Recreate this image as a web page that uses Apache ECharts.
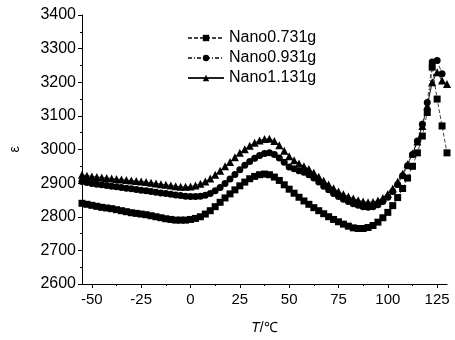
<!DOCTYPE html>
<html>
<head>
<meta charset="utf-8">
<script src="https://cdn.jsdelivr.net/npm/echarts@6/dist/echarts.min.js"></script>
<style>html,body{margin:0;padding:0;background:#fff}#c{width:455px;height:340px}</style>
</head>
<body>
<div id="c"></div>
<script>
const temps = [-55,-52.5,-50,-47.5,-45,-42.5,-40,-37.5,-35,-32.5,-30,-27.5,-25,-22.5,-20,-17.5,-15,-12.5,-10,-7.5,-5,-2.5,0,2.5,5,7.5,10,12.5,15,17.5,20,22.5,25,27.5,30,32.5,35,37.5,40,42.5,45,47.5,50,52.5,55,57.5,60,62.5,65,67.5,70,72.5,75,77.5,80,82.5,85,87.5,90,92.5,95,97.5,100,102.5,105,107.5,110,112.5,115,117.5,120,122.5,125,127.5,130];

const nano0731 = [2840,2837,2834,2831,2828,2826,2824,2821,2818,2815,2812,2810,2808,2806,2803,2800,2797,2794,2792,2790,2790,2790,2792,2795,2800,2808,2818,2830,2843,2856,2868,2880,2892,2903,2913,2920,2925,2927,2925,2918,2908,2895,2882,2870,2858,2847,2837,2827,2818,2809,2800,2792,2785,2778,2772,2767,2765,2765,2768,2774,2784,2797,2813,2833,2857,2884,2915,2950,2990,3040,3110,3245,3150,3070,2990];

const nano0931 = [2905,2902,2899,2897,2895,2893,2891,2889,2887,2885,2883,2881,2879,2877,2875,2873,2871,2869,2867,2865,2863,2861,2860,2860,2861,2864,2869,2877,2887,2899,2912,2926,2940,2953,2964,2974,2982,2988,2990,2985,2975,2962,2948,2943,2937,2932,2925,2915,2903,2891,2880,2869,2860,2852,2845,2839,2834,2830,2828,2830,2836,2845,2858,2875,2896,2922,2952,2985,3025,3075,3140,3260,3265,3225,null];

const nano1131 = [2925,2922,2920,2918,2917,2915,2914,2912,2911,2909,2908,2906,2905,2903,2901,2899,2897,2895,2893,2891,2889,2889,2890,2893,2898,2905,2914,2925,2937,2950,2963,2977,2990,3001,3011,3020,3027,3031,3032,3025,3013,2996,2980,2968,2958,2950,2942,2931,2919,2907,2896,2885,2875,2867,2860,2854,2849,2845,2843,2844,2848,2856,2868,2884,2904,2928,2956,2988,3024,3070,3130,3200,3230,3205,3195];

const xMajorTicks = [-50,-25,0,25,50,75,100,125];
const xMinorTicks = [-37.5,-12.5,12.5,37.5,62.5,87.5,112.5];
const seriesNames = ['Nano0.731g','Nano0.931g','Nano1.131g'];

function pairs(vals){ return temps.map((t,i)=>[t, vals[i]]); }

const chart = echarts.init(document.getElementById('c'), null, {renderer:'canvas'});
const font = 'Liberation Sans, Arial, sans-serif';
chart.setOption({
  animation:false,
  backgroundColor:'#fff',
  grid:{left:72,right:8,top:15,bottom:55,containLabel:false},
  legend:{
    left:182, top:25, orient:'vertical', itemWidth:36, itemHeight:8, itemGap:4,
    textStyle:{fontFamily:font,fontSize:16,color:'#000',lineHeight:16},
    data:seriesNames
  },
  xAxis:[{
    type:'value', min:-55, max:130,
    name:'{i|T}/℃', nameLocation:'middle', nameGap:37,
    nameTextStyle:{fontFamily:font,fontSize:14,color:'#000',rich:{i:{fontStyle:'italic',fontFamily:font,fontSize:14,color:'#000'}}},
    axisLine:{show:true,onZero:false,lineStyle:{color:'#000',width:1}},
    axisTick:{show:true,length:4,inside:false,customValues:xMajorTicks,lineStyle:{color:'#000'}},
    axisLabel:{customValues:xMajorTicks,fontFamily:font,fontSize:15,color:'#000',margin:8},
    splitLine:{show:false}
  },{
    type:'value', min:-55, max:130, position:'bottom',
    axisLine:{show:false,onZero:false},
    axisTick:{show:true,length:2,customValues:xMinorTicks,lineStyle:{color:'#000'}},
    axisLabel:{show:false},
    splitLine:{show:false}
  }],
  yAxis:{
    type:'value', min:2600, max:3400, interval:100,
    name:'ε', nameLocation:'middle', nameGap:60, nameRotate:90,
    nameTextStyle:{fontFamily:font,fontSize:14,color:'#000'},
    axisLine:{show:true,onZero:false,lineStyle:{color:'#000',width:1}},
    axisTick:{show:true,length:4,lineStyle:{color:'#000'}},
    minorTick:{show:true,splitNumber:2,length:2,lineStyle:{color:'#000'}},
    axisLabel:{fontFamily:font,fontSize:16,color:'#000',margin:6,formatter:function(v){return String(v);}},
    splitLine:{show:false}
  },
  series:[{
    name:seriesNames[0], type:'line', data:pairs(nano0731), xAxisIndex:0,
    symbol:'rect', symbolSize:7, showSymbol:true,
    itemStyle:{color:'#000'}, lineStyle:{color:'#444',width:1,type:[4,2]}
  },{
    name:seriesNames[1], type:'line', data:pairs(nano0931), xAxisIndex:0,
    symbol:'circle', symbolSize:7, showSymbol:true, connectNulls:false,
    itemStyle:{color:'#000'}, lineStyle:{color:'#444',width:1,type:[4,2,1,2]}
  },{
    name:seriesNames[2], type:'line', data:pairs(nano1131), xAxisIndex:0,
    symbol:'triangle', symbolSize:8, showSymbol:true,
    itemStyle:{color:'#000'}, lineStyle:{color:'#222',width:1,type:'solid'}
  }]
});
</script>
</body>
</html>
